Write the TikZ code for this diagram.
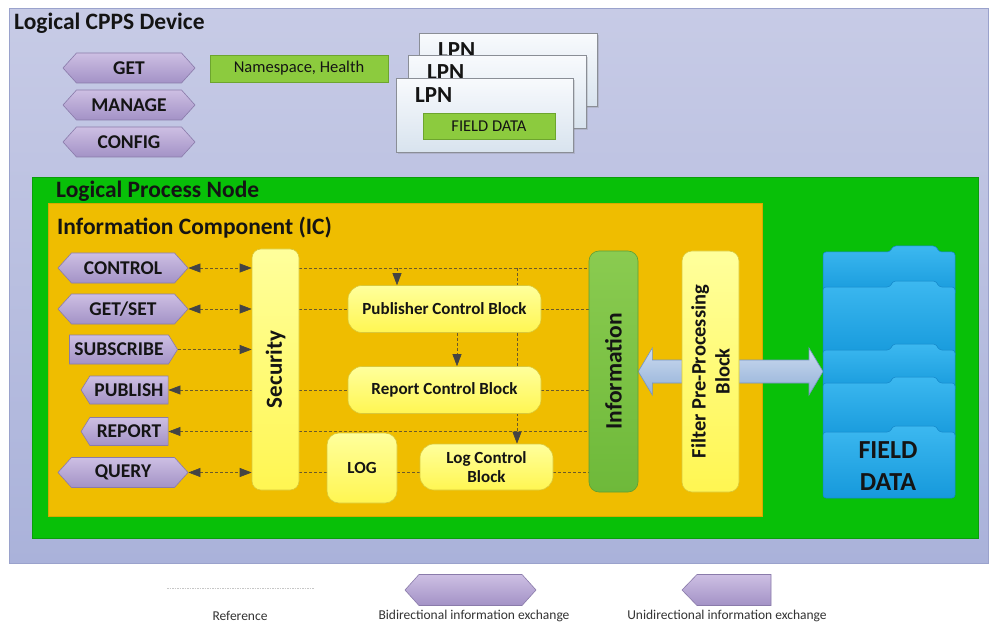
\documentclass[tikz,border=0pt]{standalone}
\usepackage{fontspec}
\setmainfont{Carlito}
\usetikzlibrary{shapes.symbols,calc,arrows.meta,shadows}

\definecolor{cppsTop}{HTML}{C7CBE6}
\definecolor{cppsBot}{HTML}{AAB2DA}
\definecolor{cppsLine}{HTML}{9AA2CC}
\definecolor{lpnGreen}{HTML}{08C008}
\definecolor{lpnLine}{HTML}{0A9E0A}
\definecolor{icGold}{HTML}{EFBD00}
\definecolor{icLine}{HTML}{D8A800}
\definecolor{hexTop}{HTML}{CDBFE3}
\definecolor{hexBot}{HTML}{A392C6}
\definecolor{hexLine}{HTML}{8A7BAA}
\definecolor{limeFill}{HTML}{8CCB3E}
\definecolor{limeLine}{HTML}{6DA52E}
\definecolor{blockTop}{HTML}{FFFF9C}
\definecolor{blockBot}{HTML}{FFF652}
\definecolor{blockLine}{HTML}{D9C83A}
\definecolor{infoTop}{HTML}{8ACB50}
\definecolor{infoBot}{HTML}{6EB93A}
\definecolor{infoLine}{HTML}{5F9E33}
\definecolor{folderTop}{HTML}{3CB8F0}
\definecolor{folderBot}{HTML}{1699DB}
\definecolor{folderLine}{HTML}{1386C8}
\definecolor{arrTop}{HTML}{CCDBEF}
\definecolor{arrBot}{HTML}{92B0D8}
\definecolor{arrLine}{HTML}{7494C4}
\definecolor{cardTop}{HTML}{F8FAFD}
\definecolor{cardBot}{HTML}{D8E3EE}
\definecolor{cardLine}{HTML}{8A8E96}
\definecolor{dashCol}{HTML}{6B5A2A}
\definecolor{tipCol}{HTML}{444444}
\definecolor{inkCol}{HTML}{141414}

\pgfdeclarelayer{back}
\pgfdeclarelayer{mid}
\pgfsetlayers{back,mid,main}

\begin{document}
\begin{tikzpicture}[x=1pt,y=-1pt,
  title/.style={font=\fontsize{23.5}{26}\selectfont\bfseries, text=inkCol, inner sep=0pt},
  hexbase/.style={shape=signal, inner sep=0pt, top color=hexTop, bottom color=hexBot,
    draw=hexLine, line width=0.6pt, font=\fontsize{19.5}{21}\selectfont\bfseries, text=inkCol},
  bihex/.style={hexbase, signal to=east and west, signal pointer angle=96},
  lefthex/.style={hexbase, signal to=west, signal pointer angle=116},
  righthex/.style={hexbase, signal to=east, signal pointer angle=116},
  limebox/.style={fill=limeFill, draw=limeLine, line width=0.6pt, inner sep=0pt,
    font=\fontsize{16.5}{18}\selectfont, text=inkCol},
  card/.style={top color=cardTop, bottom color=cardBot, draw=cardLine, line width=0.6pt,
    inner sep=0pt, anchor=north west, minimum width=178pt, minimum height=73pt,
    drop shadow={opacity=0.25, shadow xshift=2pt, shadow yshift=-2pt}},
  cardlbl/.style={anchor=base west, inner sep=0pt, font=\fontsize{23}{25}\selectfont\bfseries, text=inkCol},
  block/.style={rounded corners=14pt, top color=blockTop, bottom color=blockBot,
    draw=blockLine, line width=0.6pt, inner sep=0pt, align=center,
    font=\fontsize{17}{19}\selectfont\bfseries, text=inkCol},
  vlabel/.style={rotate=90, inner sep=0pt, align=center, text=inkCol},
  dl/.style={draw=dashCol, line width=0.6pt, dash pattern=on 3pt off 2pt},
  tri/.tip={Triangle[length=12pt, width=9pt, color=tipCol]},
  folder/.style={rounded corners=3pt, top color=folderTop, bottom color=folderBot,
    draw=folderLine, line width=0.5pt},
  bigarrow/.style={top color=arrTop, bottom color=arrBot, draw=arrLine, line width=0.6pt},
  legendtxt/.style={font=\fontsize{13.5}{15}\selectfont, text=black!80, inner sep=0pt}
]
\useasboundingbox (0,0) rectangle (989,623);

% ---------- nested containers ----------
\begin{pgfonlayer}{back}
  \fill[white] (0,0) rectangle (989,623);
  \node[anchor=north west, minimum width=979pt, minimum height=555pt, inner sep=0pt,
        top color=cppsTop, bottom color=cppsBot, draw=cppsLine, line width=0.8pt] (cpps) at (9,8) {};
  \node[title, anchor=base west] (cppstitle) at (14,30) {Logical CPPS Device};
  \node[anchor=north west, minimum width=946pt, minimum height=361pt, inner sep=0pt,
        fill=lpnGreen, draw=lpnLine, line width=0.6pt] (lpn) at (32,177) {};
  \node[title, anchor=base west] (lpntitle) at (56,198) {Logical Process Node};
  \node[anchor=north west, minimum width=714pt, minimum height=313pt, inner sep=0pt,
        fill=icGold, draw=icLine, line width=0.6pt] (ic) at (48,203) {};
  \node[title, anchor=base west] (ictitle) at (57,234) {Information Component (IC)};
\end{pgfonlayer}

% ---------- device level services ----------
\node[bihex, minimum width=132pt, minimum height=30pt] (get) at (129,68) {GET};
\node[bihex, minimum width=132pt, minimum height=30pt] (manage) at (129,105) {MANAGE};
\node[bihex, minimum width=132pt, minimum height=30pt] (config) at (129,142) {CONFIG};
\node[limebox, minimum width=178pt, minimum height=27pt] (ns) at (299,68.5) {Namespace, Health};

% ---------- stacked logical process nodes ----------
\node[card] (lpnC) at (419,33) {};
\node[cardlbl] (lpnClbl) at ($(lpnC.north west)+(19,25)$) {LPN};
\node[card] (lpnB) at (408,55) {};
\node[cardlbl] (lpnBlbl) at ($(lpnB.north west)+(19,25)$) {LPN};
\node[card, minimum width=177pt, minimum height=74pt] (lpnA) at (396,78) {};
\node[cardlbl] (lpnAlbl) at ($(lpnA.north west)+(19,25)$) {LPN};
\node[limebox, minimum width=132pt, minimum height=26pt] (lpnfd) at (489,126) {FIELD DATA};

% ---------- client side services ----------
\node[bihex, minimum width=130pt, minimum height=30pt] (control) at (123,268) {CONTROL};
\node[bihex, minimum width=130pt, minimum height=30pt] (getset) at (123,309) {GET/SET};
\node[righthex, minimum width=108pt, minimum height=29pt] (subscribe) at (119,349.5) {SUBSCRIBE};
\node[lefthex, minimum width=87pt, minimum height=28pt] (publish) at (129,390) {PUBLISH};
\node[lefthex, minimum width=87pt, minimum height=28pt] (report) at (129,431.5) {REPORT};
\node[bihex, minimum width=130pt, minimum height=30pt] (query) at (123,472.5) {QUERY};

% ---------- information component blocks ----------
\node[block, rounded corners=9pt, minimum width=47pt, minimum height=241pt] (sec) at (275.5,369.5) {};
\node[vlabel, font=\fontsize{23}{25}\selectfont\bfseries] (seclbl) at (sec.center) {Security};
\node[block, minimum width=193pt, minimum height=47pt] (pcb) at (444.5,309) {Publisher Control Block};
\node[block, minimum width=193pt, minimum height=47pt] (rcb) at (444.5,390) {Report Control Block};
\node[block, rounded corners=12pt, minimum width=70pt, minimum height=70pt] (log) at (362,468) {LOG};
\node[block, minimum width=133pt, minimum height=46pt] (lcb) at (486.5,467) {Log Control\\Block};
\node[rounded corners=10pt, top color=infoTop, bottom color=infoBot, draw=infoLine, line width=0.6pt,
      inner sep=0pt, minimum width=49pt, minimum height=241pt] (info) at (613.5,371.5) {};
\node[vlabel, font=\fontsize{23.5}{25}\selectfont\bfseries] (infolbl) at (info.center) {Information};
\node[block, rounded corners=10pt, minimum width=57pt, minimum height=241pt] (filter) at (710.5,371.5) {};
\node[vlabel, font=\fontsize{20.5}{24}\selectfont\bfseries] (filterlbl) at (filter.center) {Filter Pre-Processing\\Block};

% ---------- field data store ----------
\node[anchor=north west, inner sep=0pt, minimum width=132pt, minimum height=253pt] (fd) at (823,245) {};
\foreach \t/\b in {252/296, 287/358, 350/392, 383/440, 432/498}{
  \draw[folder] (823,\b) |- (890,\t) -- (893,\t-6) -- (936,\t-6) -- (939,\t) -| (955,\b) -- cycle;
}
\node[font=\fontsize{26}{32}\selectfont\bfseries, align=center, text=inkCol, inner sep=0pt] (fdlbl) at (888,466) {FIELD\\DATA};

% ---------- information flows ----------
\begin{pgfonlayer}{mid}
  \draw[dl, tri-tri] (control.east) -- (sec.west |- control.east);
  \draw[dl, tri-tri] (getset.east) -- (sec.west |- getset.east);
  \draw[dl, -tri] (subscribe.east) -- (sec.west |- subscribe.east);
  \draw[dl, tri-] (publish.east) -- (sec.west |- publish.east);
  \draw[dl, tri-] (report.east) -- (sec.west |- report.east);
  \draw[dl, tri-tri] (query.east) -- (sec.west |- query.east);

  \draw[dl] (sec.east |- control.east) -- (info.west |- control.east);
  \draw[dl] (sec.east |- getset.east) -- (pcb.west |- getset.east);
  \draw[dl] (pcb.east |- getset.east) -- (info.west |- getset.east);
  \draw[dl] (sec.east |- publish.east) -- (rcb.west |- publish.east);
  \draw[dl] (rcb.east |- publish.east) -- (info.west |- publish.east);
  \draw[dl] (sec.east |- report.east) -- (info.west |- report.east);
  \draw[dl] (sec.east |- query.east) -- (log.west |- query.east);
  \draw[dl] (log.east |- query.east) -- (lcb.west |- query.east);
  \draw[dl] (lcb.east |- query.east) -- (info.west |- query.east);

  \coordinate (tapA) at (397,268);
  \coordinate (tapB) at (457,340);
  \coordinate (tapC) at (517,268);
  \draw[dl, -tri] (tapA) -- (tapA |- pcb.north);
  \draw[dl, -tri] (tapB |- pcb.south) -- (tapB |- rcb.north);
  \draw[dl, -tri] (tapC) -- (tapC |- lcb.north);

  \path[bigarrow] let \p1=(info.east), \p2=(fd.west) in
    (\x1,\y1) -- (\x1+14pt,\y1+23.5pt) -- (\x1+14pt,\y1+11.5pt) -- (\x2-14pt,\y1+11.5pt)
    -- (\x2-14pt,\y1+23.5pt) -- (\x2,\y1) -- (\x2-14pt,\y1-23.5pt) -- (\x2-14pt,\y1-11.5pt)
    -- (\x1+14pt,\y1-11.5pt) -- (\x1+14pt,\y1-23.5pt) -- cycle;
\end{pgfonlayer}

% ---------- legend ----------
\coordinate (refA) at (167,588);
\coordinate (refB) at (314,588);
\draw[draw=black!22, line width=0.8pt, dash pattern=on 1.5pt off 1pt] (refA) -- (refB);
\node[legendtxt] (reflbl) at (240,616) {Reference};
\node[bihex, minimum width=131pt, minimum height=31pt] (legbi) at (470.5,590) {};
\node[legendtxt] (legbilbl) at (474,616) {Bidirectional information exchange};
\node[lefthex, signal pointer angle=92, minimum width=89pt, minimum height=31pt] (leguni) at (734,590) {};
\node[legendtxt] (legunilbl) at (727,616) {Unidirectional information exchange};
\end{tikzpicture}
\end{document}
